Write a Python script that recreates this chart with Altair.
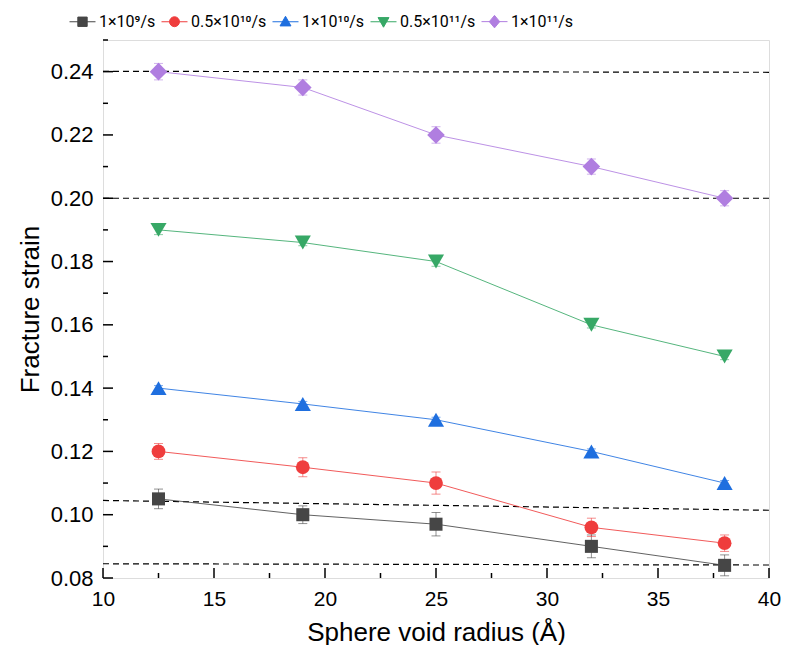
import altair as alt
import pandas as pd

# ---------------- data ----------------
radius = [12.5, 19, 25, 32, 38]
series = ["1×10⁹/s", "0.5×10¹⁰/s", "1×10¹⁰/s", "0.5×10¹¹/s", "1×10¹¹/s"]

strain_1e9 = [0.105, 0.100, 0.097, 0.090, 0.084]
err_1e9 = [0.0031, 0.0028, 0.0037, 0.0036, 0.0033]
strain_05e10 = [0.120, 0.115, 0.110, 0.096, 0.091]
err_05e10 = [0.0025, 0.0030, 0.0035, 0.0029, 0.0026]
strain_1e10 = [0.140, 0.135, 0.130, 0.120, 0.110]
err_1e10 = [0.0008, 0.0008, 0.0008, 0.0008, 0.0008]
strain_05e11 = [0.190, 0.186, 0.180, 0.160, 0.150]
err_05e11 = [0.0015, 0.0010, 0.0015, 0.0010, 0.0010]
strain_1e11 = [0.240, 0.235, 0.220, 0.210, 0.200]
err_1e11 = [0.0026, 0.0024, 0.0026, 0.0024, 0.0024]

# dashed guide lines (start / end)
guide_x1 = [10, 10, 10, 10]
guide_x2 = [40, 40, 40, 40]
guide_y1 = [0.2401, 0.2000, 0.1045, 0.0845]
guide_y2 = [0.2398, 0.2000, 0.1014, 0.0841]

x_major = [10, 15, 20, 25, 30, 35, 40]
x_minor = [12.5, 17.5, 22.5, 27.5, 32.5, 37.5]
y_major = [0.08, 0.10, 0.12, 0.14, 0.16, 0.18, 0.20, 0.22, 0.24]
y_minor = [0.09, 0.11, 0.13, 0.15, 0.17, 0.19, 0.21, 0.23, 0.25]

# ---------------- styling ----------------
colors = ["#464646", "#ef3d3d", "#1f6fdf", "#37a866", "#b07ee0"]
shapes = ["square", "circle", "triangle-up", "triangle-down", "diamond"]
sizes = [170, 190, 260, 260, 310]
legend_paths = [
    "M-1,0H1M-0.36,-0.36H0.36V0.36H-0.36Z",
    "M-1,0H1M-0.38,0A0.38,0.38,0,1,1,0.38,0A0.38,0.38,0,1,1,-0.38,0Z",
    "M-1,0H1M-0.42,0.32L0,-0.42L0.42,0.32Z",
    "M-1,0H1M-0.42,-0.32L0.42,-0.32L0,0.42Z",
    "M-1,0H1M-0.4,0L0,-0.48L0.4,0L0,0.48Z",
]
FONT = "Liberation Sans"
LEGEND_FONT = "Roboto"
W, H = 666, 538

values = [strain_1e9, strain_05e10, strain_1e10, strain_05e11, strain_1e11]
errors = [err_1e9, err_05e10, err_1e10, err_05e11, err_1e11]
rows = []
for s, c, vals, errs in zip(series, colors, values, errors):
    for r, v, e in zip(radius, vals, errs):
        rows.append({"series": s, "col": c, "radius": r, "strain": v, "lo": v - e, "hi": v + e})
df = pd.DataFrame(rows)

guides = pd.DataFrame({"x1": guide_x1, "x2": guide_x2, "y1": guide_y1, "y2": guide_y2})

xscale = alt.Scale(domain=[10, 40], nice=False, zero=False)
yscale = alt.Scale(domain=[0.08, 0.25], nice=False, zero=False)
col_enc = alt.Color("col:N", scale=None)

xax = alt.Axis(values=x_major, title="Sphere void radius (Å)", ticks=False, domain=False,
               grid=False, labelFontSize=21, titleFontSize=26, labelPadding=10,
               titlePadding=10, labelFont=FONT, titleFont=FONT, titleFontWeight="normal",
               labelColor="black", titleColor="black", labelFlush=False)
yax = alt.Axis(values=y_major, format=".2f", title="Fracture strain", ticks=False, domain=False,
               grid=False, labelFontSize=22, titleFontSize=26, labelPadding=10,
               titlePadding=7, labelFont=FONT, titleFont=FONT, titleFontWeight="normal",
               labelColor="black", titleColor="black", labelFlush=False)

base = alt.Chart(df)

guide_layer = alt.Chart(guides).mark_rule(color="black", strokeDash=[6, 4], strokeWidth=1.2).encode(
    x=alt.X("x1:Q", scale=xscale, axis=xax),
    x2="x2:Q",
    y=alt.Y("y1:Q", scale=yscale, axis=yax),
    y2="y2:Q",
)

lines = base.mark_line(strokeWidth=1, opacity=0.85).encode(
    x=alt.X("radius:Q", scale=xscale),
    y=alt.Y("strain:Q", scale=yscale),
    color=col_enc,
    detail="series:N",
)

err_rule = base.mark_rule(strokeWidth=1, opacity=0.6).encode(
    x="radius:Q", y="lo:Q", y2="hi:Q", color=col_enc)
cap_lo = base.mark_tick(orient="horizontal", size=9, thickness=1, opacity=0.6).encode(
    x="radius:Q", y="lo:Q", color=col_enc)
cap_hi = base.mark_tick(orient="horizontal", size=9, thickness=1, opacity=0.6).encode(
    x="radius:Q", y="hi:Q", color=col_enc)

point_layers = []
for s, shp, sz in zip(series, shapes, sizes):
    point_layers.append(
        base.transform_filter(alt.datum.series == s)
        .mark_point(filled=True, shape=shp, size=sz, opacity=1)
        .encode(x="radius:Q", y="strain:Q", color=col_enc)
    )


def make_legend():
    return alt.Legend(title=None, orient="none", legendX=-34, legendY=-32,
                      direction="horizontal", columns=5, symbolSize=676,
                      symbolOpacity=1, symbolStrokeWidth=1,
                      labelFont=LEGEND_FONT, labelFontSize=16, labelColor="black",
                      labelOffset=3, columnPadding=3, padding=0)


legend_df = pd.DataFrame({"series": series})
legend_layer = alt.Chart(legend_df).mark_point(filled=True, size=0, opacity=1).encode(
    x=alt.value(0), y=alt.value(0),
    fill=alt.Fill("series:N", scale=alt.Scale(domain=series, range=colors), sort=series,
                  legend=make_legend()),
    stroke=alt.Stroke("series:N", scale=alt.Scale(domain=series, range=colors), sort=series,
                      legend=make_legend()),
    shape=alt.Shape("series:N", scale=alt.Scale(domain=series, range=legend_paths), sort=series,
                    legend=make_legend()),
)

# inward ticks
xt_major = alt.Chart(pd.DataFrame({"t": x_major})).mark_rule(color="black", strokeWidth=1.5).encode(
    x="t:Q", y=alt.value(H), y2=alt.value(H - 10))
xt_minor = alt.Chart(pd.DataFrame({"t": x_minor})).mark_rule(color="black", strokeWidth=1.5).encode(
    x="t:Q", y=alt.value(H), y2=alt.value(H - 5))
yt_major = alt.Chart(pd.DataFrame({"t": y_major})).mark_rule(color="black", strokeWidth=1.5).encode(
    y="t:Q", x=alt.value(0), x2=alt.value(10))
yt_minor = alt.Chart(pd.DataFrame({"t": y_minor})).mark_rule(color="black", strokeWidth=1.5).encode(
    y="t:Q", x=alt.value(0), x2=alt.value(5))

chart = alt.layer(
    legend_layer, guide_layer, xt_major, xt_minor, yt_major, yt_minor,
    err_rule, cap_lo, cap_hi, lines, *point_layers
).properties(
    width=W, height=H,
    padding={"left": 9, "top": 0, "right": 0, "bottom": 0},
).configure_view(stroke="black", strokeWidth=2
).configure(background="white")

chart.save("out.html", embed_options={"renderer": "svg", "actions": False})
